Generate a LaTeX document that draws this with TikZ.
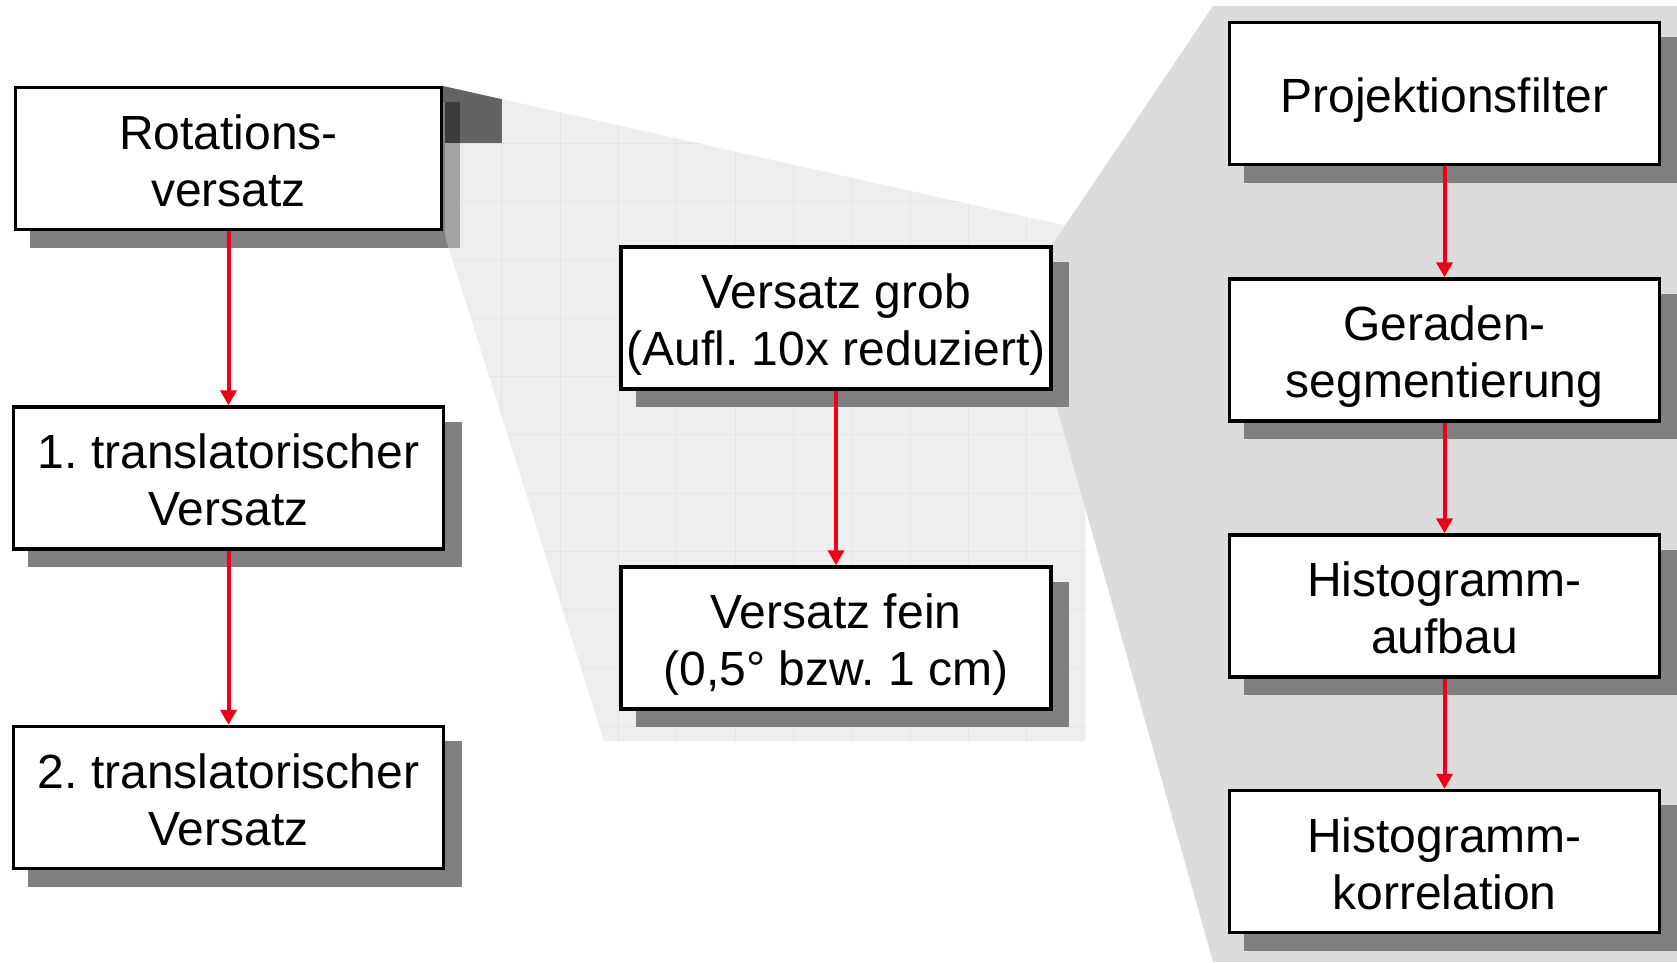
\documentclass[tikz,border=0pt]{standalone}
\usepackage{fontspec}
\setmainfont{Liberation Sans}
\usetikzlibrary{arrows.meta,shadows}
\definecolor{shadowgray}{HTML}{808080}
\definecolor{panelgray}{HTML}{DCDCDC}
\definecolor{zoomfill}{HTML}{EEEEEE}
\definecolor{gridline}{HTML}{E4E4E4}
\definecolor{darkcell}{HTML}{636363}
\definecolor{shadowdark}{HTML}{3C3C3C}
\definecolor{shadowmix}{HTML}{A4A4A4}
\definecolor{flowred}{RGB}{240,0,24}

\begin{document}
\frenchspacing
\begin{tikzpicture}[x=1pt,y=-1pt,
  stepbox/.style={draw=black, line width=3.5pt, fill=white, rectangle, inner sep=0pt,
    minimum width=430pt, minimum height=142pt, align=center,
    font=\fontsize{48}{57}\selectfont, text height=105pt, text depth=10pt,
    drop shadow={shadow xshift=16.5pt, shadow yshift=-16.5pt, fill=shadowgray,
      draw=shadowgray, line width=3.5pt, opacity=1}},
  oneline/.style={text height=48pt},
  flow/.style={draw=flowred, line width=4pt, -{Triangle[width=16pt,length=15pt]}}
]
\useasboundingbox (0,0) rectangle (1677,962);

% magnified area of the rotation step (light, gridded funnel)
\def\funnel{(443,86) -- (1085,230) -- (1085,741) -- (604,741) -- (443,230) -- cycle}
\fill[zoomfill] \funnel;
\begin{scope}
  \clip \funnel;
  \foreach \k in {0,...,11} {
    \draw[gridline, line width=1pt] ({443.4+58.33*\k},0) -- ++(0,962);
    \draw[gridline, line width=1pt] (0,{85+58.33*\k}) -- ++(1677,0);
  }
  \fill[darkcell] (443.4,80) rectangle (501.7,143.4);
\end{scope}

% magnified area of the coarse step (gray panel)
\fill[panelgray] (1052,245) -- (1213,6) -- (1677,6) -- (1677,962) -- (1213,962) -- (1052,390) -- cycle;

% left column
\node[stepbox, minimum width=426pt] (rot) at (228.5,158.5) {Rotations-\\versatz};
\node[stepbox] (t1) at (228.5,478) {1. translatorischer\\Versatz};
\node[stepbox] (t2) at (228.5,797.5) {2. translatorischer\\Versatz};

% middle column
\node[stepbox] (grob) at (836,318) {Versatz grob\\(Aufl. 10x reduziert)};
\node[stepbox] (fein) at (836,638) {Versatz fein\\(0,5° bzw. 1 cm)};

% right column
\node[stepbox, oneline] (proj) at (1444.5,93.5) {Projektionsfilter};
\node[stepbox] (ger) at (1444.5,350) {Geraden-\\segmentierung};
\node[stepbox] (hauf) at (1444.5,606) {Histogramm-\\aufbau};
\node[stepbox] (hkor) at (1444.5,861.5) {Histogramm-\\korrelation};

% funnel seen through over the shadow of the rotation box
\begin{scope}
  \clip \funnel;
  \fill[shadowmix] (444.5,102.25) rectangle (459.75,247.75);
  \fill[shadowdark] (444.5,102.25) rectangle (459.75,143.4);
\end{scope}

% connectors
\draw[flow] (rot.south) -- (t1.north);
\draw[flow] (t1.south) -- (t2.north);
\draw[flow] (grob.south) -- (fein.north);
\draw[flow] (proj.south) -- (ger.north);
\draw[flow] (ger.south) -- (hauf.north);
\draw[flow] (hauf.south) -- (hkor.north);
\end{tikzpicture}
\end{document}
